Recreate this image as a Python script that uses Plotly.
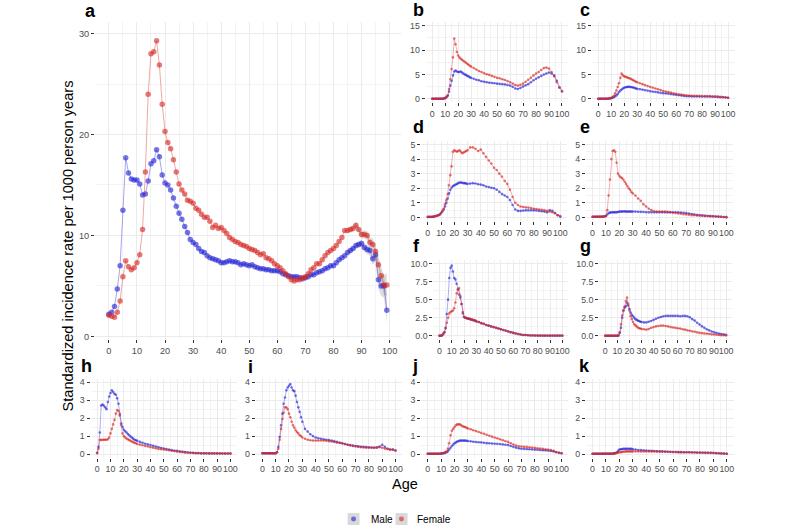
import plotly.graph_objects as go

# ---------------- DATA ----------------
ages_a = list(range(0, 100))
male_a = [2.2, 2.4, 2.95, 4.7, 7.0, 12.5, 17.7, 16.2, 15.6, 15.5,
          15.5, 15.1, 14.0, 14.1, 15.4, 17.1, 17.4, 18.5, 17.8, 16.0,
          15.2, 15.0, 14.5, 13.7, 12.9, 12.2, 11.6, 10.9, 10.3, 9.6,
          9.3, 9.1, 8.7, 8.4, 8.3, 8.0, 7.8, 7.7, 7.6, 7.5,
          7.3, 7.3, 7.4, 7.5, 7.4, 7.4, 7.3, 7.1, 7.2, 7.1,
          7.0, 7.1, 6.9, 6.8, 6.7, 6.7, 6.6, 6.6, 6.5, 6.5,
          6.5, 6.4, 6.2, 6.1, 6.0, 5.9, 5.9, 5.9, 5.8, 5.7,
          5.8, 5.9, 6.1, 6.1, 6.3, 6.4, 6.5, 6.7, 6.8, 7.0,
          7.0, 7.3, 7.6, 7.8, 8.0, 8.3, 8.5, 8.7, 9.0, 9.1,
          9.2, 8.8, 8.6, 8.5, 7.7, 8.1, 5.6, 5.0, 5.0, 2.6]
female_a = [2.1, 2.0, 1.9, 2.4, 3.5, 5.9, 7.5, 6.9, 6.6, 6.8,
            7.3, 8.1, 10.6, 16.3, 24.0, 28.0, 28.2, 29.3, 26.9, 23.0,
            20.3, 19.2, 18.6, 17.5, 16.3, 15.1, 14.5, 14.1, 13.5, 13.4,
            13.2, 12.7, 12.5, 12.1, 11.8, 11.8, 11.4, 10.8, 11.0, 10.7,
            10.8, 10.5, 10.2, 9.8, 9.6, 9.4, 9.3, 9.1, 9.0, 8.9,
            8.7, 8.6, 8.5, 8.3, 8.1, 8.2, 7.8, 7.7, 7.5, 7.2,
            7.0, 6.8, 6.5, 6.2, 5.9, 5.6, 5.5, 5.6, 5.6, 5.8,
            5.9, 6.2, 6.6, 6.8, 7.2, 7.2, 7.6, 8.0, 8.3, 8.5,
            8.7, 9.0, 9.4, 9.8, 10.5, 10.5, 10.6, 10.7, 11.0, 10.6,
            10.1, 10.1, 10.0, 9.3, 9.1, 8.4, 7.1, 6.0, 5.1, 5.1]
ci_ages = list(range(85, 100))
male_ci = [0.2, 0.2, 0.25, 0.3, 0.3, 0.35, 0.4, 0.45, 0.5, 0.6, 0.7, 0.85, 1.0, 1.15, 1.3]
female_ci = [0.25, 0.25, 0.3, 0.3, 0.35, 0.4, 0.4, 0.45, 0.5, 0.6, 0.7, 0.8, 0.9, 1.0, 1.1]

ages_s = list(range(0, 30)) + list(range(30, 101, 2))

male_b = [0, 0, 0, 0, 0, 0, 0, 0, 0, 0.03,
          0.1, 0.3, 0.6, 1.5, 2.7, 3.7, 4.8, 5.6, 5.8, 5.6,
          5.5, 5.5, 5.6, 5.4, 5.2, 5.0, 4.9, 4.7, 4.6, 4.4,
          4.3, 4.1, 3.9, 3.8, 3.6, 3.5, 3.4, 3.3, 3.25, 3.2,
          3.1, 3.05, 3.0, 2.95, 2.85, 2.7, 2.45, 2.1, 2.0, 2.2,
          2.5, 2.75, 3.0, 3.4, 3.8, 4.1, 4.4, 4.7, 5.0, 5.2,
          5.4, 5.2, 4.8, 3.7, 2.3, 1.5]
female_b = [0, 0, 0, 0, 0, 0, 0, 0, 0, 0.05,
            0.2, 0.4, 0.7, 2.0, 4.0, 6.1, 8.5, 12.4, 11.2, 9.6,
            8.9, 8.5, 8.2, 8.0, 7.8, 7.6, 7.4, 7.2, 7.0, 6.8,
            6.6, 6.3, 6.0, 5.7, 5.5, 5.25, 5.05, 4.9, 4.7, 4.5,
            4.3, 4.2, 4.0, 3.85, 3.65, 3.4, 3.1, 2.8, 2.7, 2.85,
            3.1, 3.5, 3.9, 4.3, 4.8, 5.2, 5.5, 5.9, 6.3, 6.4,
            6.2, 5.5, 4.6, 3.4, 2.3, 1.6]
male_c = [0, 0, 0, 0, 0, 0, 0, 0, 0.03, 0.05,
          0.1, 0.2, 0.3, 0.5, 0.7, 1.0, 1.4, 1.7, 1.9, 2.1,
          2.25, 2.35, 2.4, 2.45, 2.45, 2.4, 2.35, 2.3, 2.2, 2.1,
          2.0, 1.95, 1.85, 1.75, 1.65, 1.55, 1.45, 1.4, 1.3, 1.2,
          1.15, 1.1, 1.05, 0.95, 0.85, 0.8, 0.72, 0.65, 0.58, 0.52,
          0.5, 0.48, 0.45, 0.45, 0.45, 0.45, 0.45, 0.45, 0.45, 0.42,
          0.4, 0.38, 0.32, 0.3, 0.25, 0.2]
female_c = [0, 0, 0, 0, 0, 0, 0, 0, 0.05, 0.1,
            0.2, 0.35, 0.6, 1.1, 1.7, 2.4, 3.2, 4.3, 5.2, 4.8,
            4.6, 4.5, 4.4, 4.3, 4.2, 4.1, 3.95, 3.8, 3.65, 3.5,
            3.4, 3.2, 3.0, 2.8, 2.6, 2.4, 2.25, 2.1, 1.95, 1.8,
            1.6, 1.5, 1.4, 1.25, 1.1, 1.0, 0.9, 0.85, 0.75, 0.7,
            0.65, 0.62, 0.6, 0.6, 0.58, 0.55, 0.55, 0.55, 0.55, 0.5,
            0.5, 0.45, 0.4, 0.35, 0.3, 0.2]
male_d = [0.03, 0.03, 0.03, 0.03, 0.05, 0.07, 0.1, 0.12, 0.15, 0.2,
          0.3, 0.4, 0.55, 0.75, 1.0, 1.3, 1.65, 1.9, 2.05, 2.15,
          2.2, 2.25, 2.3, 2.35, 2.4, 2.4, 2.38, 2.35, 2.35, 2.32,
          2.3, 2.32, 2.35, 2.33, 2.28, 2.25, 2.2, 2.12, 2.08, 2.03,
          2.0, 1.9, 1.75, 1.6, 1.5, 1.4, 1.2, 0.85, 0.55, 0.45,
          0.45, 0.48, 0.5, 0.5, 0.5, 0.5, 0.48, 0.45, 0.43, 0.4,
          0.35, 0.5, 0.45, 0.3, 0.15, 0.05]
female_d = [0.05, 0.05, 0.05, 0.05, 0.05, 0.07, 0.1, 0.12, 0.15, 0.2,
            0.3, 0.45, 0.6, 0.9, 1.2, 1.6, 2.2, 2.9, 3.5, 4.5,
            4.6, 4.55, 4.5, 4.55, 4.6, 4.5, 4.4, 4.45, 4.5, 4.55,
            4.6, 4.8, 4.8, 4.7, 4.55, 4.65, 4.4, 4.15, 3.9, 3.7,
            3.4, 3.25, 3.0, 2.8, 2.5, 2.3, 1.9, 1.4, 1.0, 0.85,
            0.75, 0.72, 0.7, 0.68, 0.65, 0.6, 0.58, 0.55, 0.52, 0.5,
            0.45, 0.4, 0.35, 0.3, 0.15, 0.1]
male_e = [0.05, 0.05, 0.05, 0.05, 0.05, 0.05, 0.05, 0.05, 0.06, 0.08,
          0.1, 0.2, 0.3, 0.33, 0.35, 0.35, 0.35, 0.35, 0.35, 0.37,
          0.4, 0.4, 0.4, 0.41, 0.42, 0.4, 0.4, 0.4, 0.4, 0.4,
          0.4, 0.4, 0.39, 0.38, 0.37, 0.36, 0.35, 0.35, 0.35, 0.35,
          0.35, 0.35, 0.35, 0.35, 0.36, 0.36, 0.36, 0.35, 0.34, 0.32,
          0.3, 0.27, 0.24, 0.2, 0.17, 0.15, 0.13, 0.11, 0.1, 0.09,
          0.08, 0.07, 0.06, 0.05, 0.03, 0.02]
female_e = [0.05, 0.05, 0.05, 0.05, 0.05, 0.05, 0.05, 0.05, 0.05, 0.07,
            0.1, 0.5, 1.5, 2.6, 4.0, 4.55, 4.6, 4.5, 3.75, 3.0,
            2.85, 2.75, 2.7, 2.6, 2.45, 2.3, 2.15, 2.0, 1.9, 1.75,
            1.65, 1.5, 1.3, 1.15, 0.9, 0.75, 0.6, 0.5, 0.42, 0.4,
            0.4, 0.4, 0.4, 0.38, 0.35, 0.32, 0.3, 0.27, 0.25, 0.22,
            0.2, 0.18, 0.16, 0.15, 0.13, 0.12, 0.11, 0.1, 0.1, 0.09,
            0.08, 0.07, 0.06, 0.05, 0.03, 0.02]
male_f = [0, 0.02, 0.05, 0.2, 0.5, 1.1, 3.0, 5.0, 8.0, 9.4,
          9.7, 8.9, 8.0, 7.8, 7.2, 6.4, 5.7, 5.3, 4.4, 3.1,
          2.6, 2.5, 2.45, 2.4, 2.35, 2.3, 2.25, 2.2, 2.15, 2.1,
          2.0, 1.9, 1.75, 1.65, 1.5, 1.4, 1.3, 1.2, 1.1, 1.0,
          0.9, 0.8, 0.7, 0.6, 0.5, 0.4, 0.32, 0.25, 0.18, 0.12,
          0.1, 0.07, 0.05, 0.04, 0.03, 0.02, 0.02, 0.02, 0.02, 0.02,
          0.02, 0.02, 0.02, 0.02, 0.02, 0.02]
female_f = [0, 0.02, 0.05, 0.3, 0.5, 1.0, 1.8, 2.5, 3.1, 3.3,
            3.4, 3.5, 3.8, 4.6, 5.9, 6.4, 6.6, 5.5, 4.4, 3.3,
            2.6, 2.5, 2.45, 2.4, 2.35, 2.3, 2.25, 2.2, 2.15, 2.1,
            2.0, 1.9, 1.75, 1.65, 1.5, 1.4, 1.3, 1.2, 1.1, 1.0,
            0.9, 0.8, 0.7, 0.6, 0.5, 0.4, 0.32, 0.25, 0.18, 0.12,
            0.1, 0.07, 0.05, 0.04, 0.03, 0.02, 0.02, 0.02, 0.02, 0.02,
            0.02, 0.02, 0.02, 0.02, 0.02, 0.02]
male_g = [0, 0, 0, 0, 0, 0, 0, 0, 0, 0,
          0, 0.05, 0.4, 1.1, 2.5, 3.5, 3.9, 4.1, 4.6, 4.2,
          3.7, 3.2, 2.9, 2.7, 2.5, 2.3, 2.2, 2.1, 2.05, 1.95,
          1.9, 1.85, 1.85, 1.95, 2.05, 2.2, 2.35, 2.5, 2.6, 2.7,
          2.75, 2.75, 2.75, 2.75, 2.75, 2.75, 2.7, 2.75, 2.75, 2.7,
          2.55, 2.3, 2.1, 1.8, 1.55, 1.3, 1.1, 0.9, 0.75, 0.6,
          0.5, 0.4, 0.3, 0.25, 0.2, 0.15]
female_g = [0, 0, 0, 0, 0, 0, 0, 0, 0, 0,
            0, 0.05, 0.5, 1.6, 2.8, 3.5, 4.0, 4.8, 5.3, 4.4,
            3.5, 2.7, 2.3, 1.9, 1.6, 1.45, 1.3, 1.15, 1.05, 1.0,
            0.95, 0.9, 0.85, 0.95, 1.1, 1.2, 1.3, 1.35, 1.4, 1.4,
            1.35, 1.3, 1.2, 1.15, 1.1, 1.05, 1.0, 0.9, 0.85, 0.75,
            0.7, 0.6, 0.55, 0.45, 0.4, 0.35, 0.3, 0.28, 0.25, 0.2,
            0.18, 0.15, 0.1, 0.08, 0.06, 0.05]
male_h = [0.07, 0.4, 1.2, 2.7, 2.75, 2.7, 2.6, 2.5, 2.9, 3.2,
          3.4, 3.55, 3.45, 3.35, 3.3, 3.1, 2.8, 2.15, 1.7, 1.5,
          1.35, 1.27, 1.2, 1.12, 1.05, 0.98, 0.92, 0.86, 0.8, 0.77,
          0.74, 0.68, 0.63, 0.58, 0.54, 0.5, 0.46, 0.42, 0.38, 0.34,
          0.31, 0.28, 0.25, 0.22, 0.2, 0.18, 0.15, 0.13, 0.11, 0.09,
          0.08, 0.07, 0.06, 0.06, 0.05, 0.05, 0.05, 0.04, 0.04, 0.04,
          0.04, 0.03, 0.03, 0.03, 0.03, 0.03]
female_h = [0.05, 0.3, 0.8, 0.78, 0.8, 0.8, 0.8, 0.8, 0.82, 0.92,
            1.15, 1.4, 1.65, 1.9, 2.25, 2.45, 2.4, 2.25, 1.6, 1.15,
            1.0, 0.93, 0.87, 0.82, 0.78, 0.74, 0.7, 0.66, 0.63, 0.6,
            0.56, 0.53, 0.49, 0.45, 0.42, 0.38, 0.35, 0.32, 0.29, 0.27,
            0.25, 0.23, 0.21, 0.19, 0.16, 0.14, 0.12, 0.11, 0.09, 0.08,
            0.07, 0.06, 0.05, 0.05, 0.04, 0.04, 0.04, 0.04, 0.04, 0.04,
            0.04, 0.04, 0.04, 0.04, 0.04, 0.04]
male_i = [0.05, 0.05, 0.05, 0.05, 0.05, 0.05, 0.05, 0.05, 0.05, 0.05,
          0.05, 0.1, 0.4, 0.95, 1.6, 2.25, 2.8, 3.15, 3.55, 3.7,
          3.8, 3.9, 3.7, 3.55, 3.5, 3.25, 2.9, 2.6, 2.35, 2.05,
          1.8, 1.4, 1.25, 1.1, 1.0, 0.92, 0.88, 0.85, 0.82, 0.8,
          0.78, 0.75, 0.72, 0.68, 0.64, 0.6, 0.56, 0.52, 0.5, 0.47,
          0.45, 0.43, 0.41, 0.4, 0.39, 0.38, 0.37, 0.36, 0.37, 0.42,
          0.52, 0.4, 0.3, 0.25, 0.25, 0.2]
female_i = [0.05, 0.05, 0.05, 0.05, 0.05, 0.05, 0.05, 0.05, 0.05, 0.05,
            0.05, 0.1, 0.3, 0.8, 1.4, 1.95, 2.3, 2.6, 2.6, 2.5,
            2.25, 2.05, 1.8, 1.6, 1.47, 1.33, 1.23, 1.15, 1.05, 1.0,
            0.92, 0.85, 0.8, 0.77, 0.75, 0.75, 0.75, 0.76, 0.76, 0.74,
            0.72, 0.7, 0.67, 0.64, 0.62, 0.6, 0.56, 0.52, 0.48, 0.45,
            0.42, 0.4, 0.38, 0.37, 0.36, 0.35, 0.35, 0.35, 0.36, 0.38,
            0.35, 0.3, 0.28, 0.25, 0.25, 0.2]
male_j = [0.02, 0.02, 0.02, 0.02, 0.02, 0.02, 0.02, 0.02, 0.02, 0.02,
          0.03, 0.04, 0.05, 0.07, 0.1, 0.15, 0.25, 0.35, 0.45, 0.53,
          0.6, 0.65, 0.7, 0.72, 0.75, 0.75, 0.75, 0.75, 0.75, 0.74,
          0.73, 0.71, 0.69, 0.67, 0.66, 0.65, 0.63, 0.61, 0.6, 0.59,
          0.58, 0.57, 0.56, 0.54, 0.52, 0.5, 0.45, 0.4, 0.36, 0.32,
          0.3, 0.29, 0.28, 0.27, 0.26, 0.25, 0.24, 0.23, 0.22, 0.21,
          0.2, 0.18, 0.15, 0.1, 0.07, 0.05]
female_j = [0.02, 0.02, 0.02, 0.02, 0.02, 0.02, 0.02, 0.02, 0.02, 0.02,
            0.03, 0.05, 0.08, 0.1, 0.15, 0.3, 0.6, 1.05, 1.3, 1.4,
            1.5, 1.6, 1.65, 1.65, 1.65, 1.6, 1.55, 1.52, 1.5, 1.46,
            1.42, 1.38, 1.33, 1.28, 1.23, 1.18, 1.13, 1.08, 1.02, 0.97,
            0.92, 0.88, 0.83, 0.78, 0.73, 0.68, 0.6, 0.53, 0.47, 0.44,
            0.42, 0.41, 0.4, 0.38, 0.36, 0.35, 0.33, 0.31, 0.29, 0.27,
            0.25, 0.22, 0.18, 0.12, 0.08, 0.05]
male_k = [0.02, 0.02, 0.02, 0.02, 0.02, 0.02, 0.02, 0.02, 0.02, 0.02,
          0.02, 0.02, 0.02, 0.02, 0.02, 0.02, 0.04, 0.06, 0.1, 0.18,
          0.25, 0.27, 0.28, 0.29, 0.3, 0.3, 0.3, 0.3, 0.3, 0.29,
          0.27, 0.25, 0.23, 0.22, 0.21, 0.2, 0.19, 0.18, 0.17, 0.16,
          0.15, 0.15, 0.14, 0.13, 0.13, 0.12, 0.12, 0.11, 0.11, 0.1,
          0.1, 0.1, 0.09, 0.09, 0.08, 0.08, 0.08, 0.07, 0.07, 0.07,
          0.06, 0.05, 0.05, 0.04, 0.03, 0.02]
female_k = [0.02, 0.02, 0.02, 0.02, 0.02, 0.02, 0.02, 0.02, 0.02, 0.02,
            0.02, 0.02, 0.02, 0.02, 0.02, 0.02, 0.03, 0.04, 0.06, 0.08,
            0.1, 0.11, 0.12, 0.13, 0.14, 0.15, 0.15, 0.15, 0.15, 0.15,
            0.15, 0.15, 0.15, 0.15, 0.15, 0.15, 0.15, 0.15, 0.15, 0.15,
            0.14, 0.14, 0.13, 0.13, 0.12, 0.12, 0.12, 0.11, 0.11, 0.1,
            0.1, 0.1, 0.1, 0.1, 0.1, 0.1, 0.09, 0.09, 0.08, 0.08,
            0.07, 0.06, 0.05, 0.04, 0.03, 0.02]

panel_labels = ["a", "b", "c", "d", "e", "f", "g", "h", "i", "j", "k"]
x_ticks = [0, 10, 20, 30, 40, 50, 60, 70, 80, 90, 100]
series_names = ["Male", "Female"]

for arr in [male_b, female_b, male_c, female_c, male_d, female_d, male_e, female_e,
            male_f, female_f, male_g, female_g, male_h, female_h, male_i, female_i,
            male_j, female_j, male_k, female_k]:
    assert len(arr) == len(ages_s), len(arr)
assert len(male_a) == 100 and len(female_a) == 100

# ---------------- LAYOUT GEOMETRY (pixels) ----------------
W, H = 800, 530
FONT = "Liberation Sans, Arial, Helvetica, sans-serif"
MALE_C = "rgba(35,35,215,0.62)"
MALE_L = "rgba(35,35,215,0.45)"
FEM_C = "rgba(215,40,35,0.62)"
FEM_L = "rgba(215,40,35,0.45)"

panels = [
    dict(x0=109.0, x100=390.1, xr=[-4.95, 103.95], y0=337.3, pu=10.15, yr=[-0.3, 31.13],
         yt=[0, 10, 20, 30], ym=5, fmt="", m=male_a, f=female_a, ages=ages_a, lab=(83, 10)),
    dict(x0=432.7, x100=562.7, xr=[-5, 105], y0=98.3, pu=4.89, yr=[-0.75, 15.75],
         yt=[0, 5, 10, 15], ym=2.5, fmt="", m=male_b, f=female_b, ages=ages_s, lab=(412, 9)),
    dict(x0=599.0, x100=729.0, xr=[-5, 105], y0=98.3, pu=4.89, yr=[-0.75, 15.75],
         yt=[0, 5, 10, 15], ym=2.5, fmt="", m=male_c, f=female_c, ages=ages_s, lab=(579, 9)),
    dict(x0=428.3, x100=561.0, xr=[-5, 105], y0=217.7, pu=14.68, yr=[-0.25, 5.25],
         yt=[0, 1, 2, 3, 4, 5], ym=0.5, fmt="", m=male_d, f=female_d, ages=ages_s, lab=(412, 127)),
    dict(x0=593.3, x100=727.3, xr=[-5, 105], y0=217.7, pu=14.68, yr=[-0.25, 5.25],
         yt=[0, 1, 2, 3, 4, 5], ym=0.5, fmt="", m=male_e, f=female_e, ages=ages_s, lab=(579, 127)),
    dict(x0=440.0, x100=563.0, xr=[-5, 105], y0=336.7, pu=7.27, yr=[-0.5, 10.5],
         yt=[0, 2.5, 5, 7.5, 10], ym=1.25, fmt=".1f", m=male_f, f=female_f, ages=ages_s, lab=(412, 246)),
    dict(x0=606.0, x100=727.0, xr=[-5, 105], y0=336.7, pu=7.27, yr=[-0.5, 10.5],
         yt=[0, 2.5, 5, 7.5, 10], ym=1.25, fmt=".1f", m=male_g, f=female_g, ages=ages_s, lab=(579, 246)),
    dict(x0=97.3, x100=230.7, xr=[-5, 105], y0=455.7, pu=18.1, yr=[-0.2, 4.2],
         yt=[0, 1, 2, 3, 4], ym=0.5, fmt="", m=male_h, f=female_h, ages=ages_s, lab=(79, 367)),
    dict(x0=262.7, x100=396.0, xr=[-5, 105], y0=455.7, pu=18.1, yr=[-0.2, 4.2],
         yt=[0, 1, 2, 3, 4], ym=0.5, fmt="", m=male_i, f=female_i, ages=ages_s, lab=(246, 368.5)),
    dict(x0=428.3, x100=562.3, xr=[-5, 105], y0=455.7, pu=18.1, yr=[-0.2, 4.2],
         yt=[0, 1, 2, 3, 4], ym=0.5, fmt="", m=male_j, f=female_j, ages=ages_s, lab=(411, 367)),
    dict(x0=593.3, x100=727.7, xr=[-5, 105], y0=455.7, pu=18.1, yr=[-0.2, 4.2],
         yt=[0, 1, 2, 3, 4], ym=0.5, fmt="", m=male_k, f=female_k, ages=ages_s, lab=(578, 367)),
]

fig = go.Figure()
layout = dict(width=W, height=H, margin=dict(l=0, r=0, t=0, b=0),
              paper_bgcolor="white", plot_bgcolor="white", showlegend=False,
              font=dict(family=FONT, color="#4d4d4d"))
annotations = []
shapes = []

for idx, p in enumerate(panels):
    k = "" if idx == 0 else str(idx + 1)
    xa, ya = "x" + k, "y" + k
    ppu = (p["x100"] - p["x0"]) / 100.0
    left = p["x0"] + p["xr"][0] * ppu
    right = p["x0"] + p["xr"][1] * ppu
    top = p["y0"] - p["yr"][1] * p["pu"]
    bot = p["y0"] - p["yr"][0] * p["pu"]
    tick_font = dict(family=FONT, size=8.8 if idx else 9.2, color="#4d4d4d")
    layout["xaxis" + k] = dict(domain=[left / W, right / W], range=p["xr"], anchor=ya,
                               tickvals=x_ticks, tickangle=0, ticks="outside", ticklen=3,
                               tickwidth=0.8, tickcolor="#333333", showgrid=True,
                               gridcolor="#ebebeb", gridwidth=1, zeroline=False, showline=False,
                               tickfont=tick_font,
                               minor=dict(dtick=5, tick0=5, showgrid=True, gridcolor="#f3f3f3",
                                          gridwidth=0.6, ticks=""))
    layout["yaxis" + k] = dict(domain=[1 - bot / H, 1 - top / H], range=p["yr"], anchor=xa,
                               tickvals=p["yt"], tickformat=p["fmt"], ticks="outside", ticklen=3,
                               tickwidth=0.8, tickcolor="#333333", showgrid=True, gridcolor="#ebebeb",
                               gridwidth=1, zeroline=False, showline=False, tickfont=tick_font,
                               minor=dict(dtick=p["ym"], tick0=p["ym"], showgrid=True,
                                          gridcolor="#f3f3f3", gridwidth=0.6, ticks=""))
    big = idx == 0
    if big:
        for vals, ci in [(male_a, male_ci), (female_a, female_ci)]:
            sub = [vals[ages_a.index(a)] for a in ci_ages]
            up = [v + c for v, c in zip(sub, ci)]
            lo = [v - c for v, c in zip(sub, ci)]
            fig.add_trace(go.Scatter(x=ci_ages + ci_ages[::-1], y=up + lo[::-1], fill="toself",
                                     fillcolor="rgba(140,140,140,0.3)", line=dict(width=0),
                                     mode="lines", hoverinfo="skip", xaxis=xa, yaxis=ya))
    for name, vals, mc, lc in [("Male", p["m"], MALE_C, MALE_L), ("Female", p["f"], FEM_C, FEM_L)]:
        fig.add_trace(go.Scatter(x=p["ages"], y=vals, name=name, mode="lines+markers",
                                 line=dict(color=lc, width=0.9 if big else 0.8),
                                 marker=dict(color=mc, size=5.5 if big else 2.6, line=dict(width=0)),
                                 xaxis=xa, yaxis=ya))
    lx, ly = p["lab"]
    annotations.append(dict(text="<b>%s</b>" % panel_labels[idx], x=lx / W, y=1 - ly / H,
                            xref="paper", yref="paper", xanchor="left", yanchor="middle",
                            showarrow=False, font=dict(family=FONT, size=18, color="black")))

annotations.append(dict(text="Standardized incidence rate per 1000 person years", x=68 / W,
                        y=1 - 246 / H, xref="paper", yref="paper", textangle=-90, showarrow=False,
                        xanchor="center", yanchor="middle", font=dict(family=FONT, size=14.6, color="black")))
annotations.append(dict(text="Age", x=406 / W, y=1 - 486 / H, xref="paper", yref="paper",
                        showarrow=False, xanchor="center", yanchor="middle",
                        font=dict(family=FONT, size=14.5, color="black")))

leg_y = 521
for name, cx, tx, col in [(series_names[0], 354, 369, MALE_C), (series_names[1], 402, 416, FEM_C)]:
    shapes.append(dict(type="rect", xref="paper", yref="paper", x0=(cx - 6) / W, x1=(cx + 6) / W,
                       y0=1 - (leg_y + 6) / H, y1=1 - (leg_y - 6) / H,
                       fillcolor="#d9d9d9", line=dict(width=0), layer="below"))
    shapes.append(dict(type="circle", xref="paper", yref="paper", x0=(cx - 2.5) / W, x1=(cx + 2.5) / W,
                       y0=1 - (leg_y + 2.5) / H, y1=1 - (leg_y - 2.5) / H,
                       fillcolor=col, line=dict(width=0)))
    annotations.append(dict(text=name, x=tx / W, y=1 - leg_y / H, xref="paper", yref="paper",
                            xanchor="left", yanchor="middle", showarrow=False,
                            font=dict(family=FONT, size=10, color="black")))

layout["annotations"] = annotations
layout["shapes"] = shapes
fig.update_layout(**layout)
fig.write_html("out.html", config={"displayModeBar": False},
               post_script="document.body.style.margin='0px';document.body.style.padding='0px';")
